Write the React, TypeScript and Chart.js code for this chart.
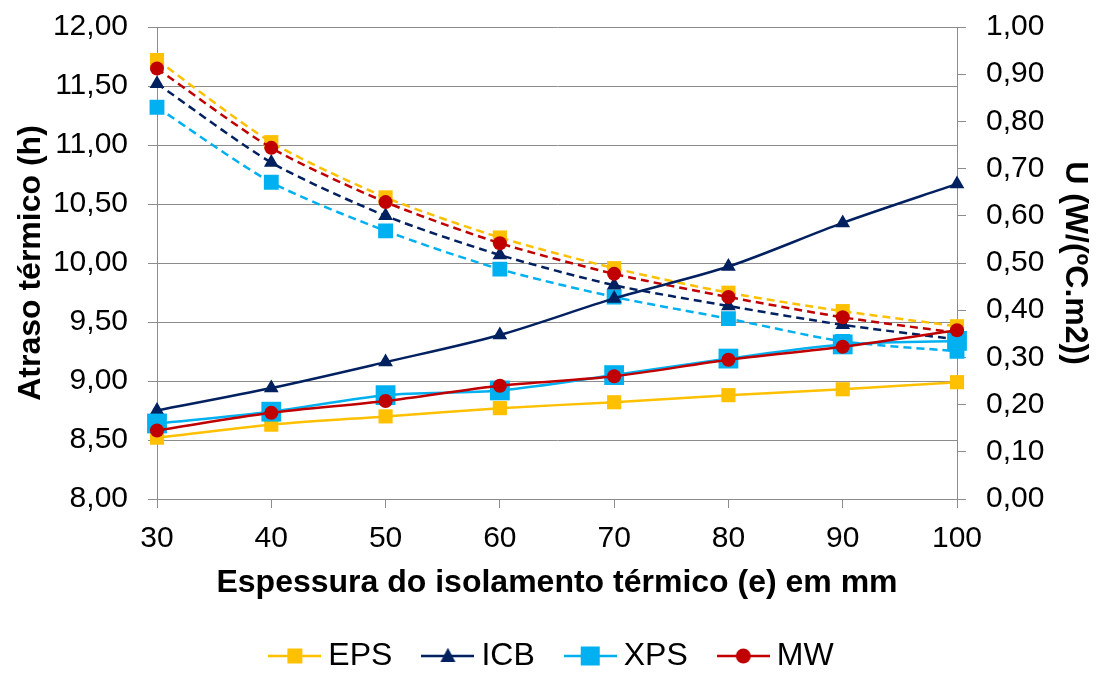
import React, { useEffect, useRef } from "react";
import { Chart, registerables } from "chart.js";

Chart.register(...registerables);

const categories = ["30", "40", "50", "60", "70", "80", "90", "100"];

// Atraso térmico (h) - left axis
const atrasoEPS = [8.52, 8.63, 8.70, 8.77, 8.82, 8.88, 8.93, 8.99];
const atrasoICB = [8.75, 8.94, 9.16, 9.39, 9.70, 9.97, 10.34, 10.67];
const atrasoXPS = [8.64, 8.74, 8.88, 8.92, 9.05, 9.19, 9.31, 9.34];
const atrasoMW = [8.58, 8.73, 8.83, 8.96, 9.04, 9.18, 9.29, 9.43];

// U (W/(ºC.m2)) - right axis
const uEPS = [0.930, 0.756, 0.639, 0.554, 0.489, 0.437, 0.398, 0.366];
const uICB = [0.880, 0.713, 0.600, 0.517, 0.453, 0.409, 0.369, 0.338];
const uXPS = [0.830, 0.671, 0.568, 0.487, 0.428, 0.382, 0.334, 0.313];
const uMW = [0.912, 0.744, 0.629, 0.542, 0.477, 0.428, 0.385, 0.352];

const seriesNames = ["EPS", "ICB", "XPS", "MW"];
const colors = ["#FFC000", "#002060", "#00B0F0", "#C00000"];

const FONT = '"Liberation Sans", Arial, sans-serif';
const GRID = "#8c8c8c";

function makeIcon(color: string, kind: string, size: number) {
  const c = document.createElement("canvas");
  c.width = 53;
  c.height = 24;
  const ctx = c.getContext("2d")!;
  ctx.strokeStyle = color;
  ctx.lineWidth = 2.5;
  ctx.beginPath();
  ctx.moveTo(0, 12);
  ctx.lineTo(53, 12);
  ctx.stroke();
  ctx.fillStyle = color;
  const cx = 26.5, cy = 12;
  ctx.beginPath();
  if (kind === "rect") {
    ctx.rect(cx - size / 2, cy - size / 2, size, size);
  } else if (kind === "triangle") {
    ctx.moveTo(cx, cy - size * 0.55);
    ctx.lineTo(cx + size / 2, cy + size * 0.4);
    ctx.lineTo(cx - size / 2, cy + size * 0.4);
    ctx.closePath();
  } else {
    ctx.arc(cx, cy, size / 2, 0, Math.PI * 2);
  }
  ctx.fill();
  return c;
}

const fmt2 = (v: number | string) => Number(v).toFixed(2).replace(".", ",");

const legendShift = {
  id: "legendShift",
  afterLayout(chart: any) {
    if (chart.legend) {
      chart.legend.left += 6;
      chart.legend.right += 6;
    }
  },
};

export default function App() {
  const ref = useRef<HTMLCanvasElement | null>(null);

  useEffect(() => {
    if (!ref.current) return;
    Chart.defaults.font.family = FONT;
    Chart.defaults.color = "#000";

    const icons = [
      makeIcon(colors[0], "rect", 15),
      makeIcon(colors[1], "triangle", 15),
      makeIcon(colors[2], "rect", 19),
      makeIcon(colors[3], "circle", 15),
    ];

    const solid = [atrasoEPS, atrasoICB, atrasoXPS, atrasoMW];
    const dashed = [uEPS, uICB, uXPS, uMW];
    const styles = ["rect", "triangle", "rect", "circle"];
    const solidRadius = [10, 8.5, 14, 7];
    const dashRadius = [10, 8.5, 10.5, 7];
    const solidOrder = [3, 2, 1, 0];
    const dashOrder = [7, 5, 6, 4];

    const datasets: any[] = [];
    solid.forEach((d, i) => {
      datasets.push({
        label: seriesNames[i],
        data: d,
        yAxisID: "y",
        borderColor: colors[i],
        backgroundColor: colors[i],
        borderWidth: 2.5,
        pointStyle: styles[i],
        pointRadius: solidRadius[i],
        pointBorderWidth: 0,
        tension: 0.3,
        order: solidOrder[i],
      });
    });
    dashed.forEach((d, i) => {
      datasets.push({
        label: seriesNames[i] + " U",
        data: d,
        yAxisID: "y2",
        borderColor: colors[i],
        backgroundColor: colors[i],
        borderWidth: 2.5,
        borderDash: [8, 5],
        pointStyle: styles[i],
        pointRadius: dashRadius[i],
        pointBorderWidth: 0,
        tension: 0.25,
        order: dashOrder[i],
      });
    });

    const fixVertical = (w: number) => (s: any) => {
      s.width = w;
      s.paddingTop = 0;
      s.paddingBottom = 0;
    };

    const chart = new Chart(ref.current, {
      type: "line",
      data: { labels: categories, datasets },
      plugins: [legendShift],
      options: {
        responsive: false,
        animation: false,
        layout: { padding: { top: 27, bottom: -7, left: 0, right: 0 } },
        plugins: {
          tooltip: { enabled: false },
          legend: {
            position: "bottom",
            labels: {
              usePointStyle: true,
              pointStyleWidth: 35,
              padding: 38,
              color: "#000",
              font: { size: 32, family: FONT },
              filter: (item: any) => item.datasetIndex < 4,
              sort: (a: any, b: any) => a.datasetIndex - b.datasetIndex,
              generateLabels: (ch: any) => {
                const items = Chart.defaults.plugins.legend.labels.generateLabels(ch);
                return items.map((it: any) => {
                  if (it.datasetIndex < 4) {
                    it.pointStyle = icons[it.datasetIndex];
                  }
                  it.fontColor = "#000";
                  return it;
                });
              },
            },
          },
        },
        scales: {
          x: {
            afterFit: (s: any) => {
              s.height = 103;
            },
            grid: { drawOnChartArea: false, drawTicks: true, tickLength: 9, color: GRID },
            border: { color: GRID, width: 1 },
            ticks: { font: { size: 30 }, color: "#000", padding: 13, maxRotation: 0 },
            title: {
              display: true,
              text: "Espessura do isolamento térmico (e) em mm",
              font: { size: 32, weight: "bold" },
              color: "#000",
              padding: { top: 0, bottom: 0 },
            },
          },
          y: {
            position: "left",
            min: 8,
            max: 12,
            afterFit: fixVertical(157),
            grid: { color: GRID, tickLength: 9, lineWidth: 1 },
            border: { color: GRID, width: 1 },
            ticks: { stepSize: 0.5, font: { size: 30 }, color: "#000", padding: 20, callback: (v: any) => fmt2(v) },
            title: {
              display: true,
              text: "Atraso térmico (h)",
              font: { size: 32, weight: "bold" },
              color: "#000",
              padding: { top: 12, bottom: 0 },
            },
          },
          y2: {
            position: "right",
            min: 0,
            max: 1,
            afterFit: fixVertical(142),
            grid: { drawOnChartArea: false, color: GRID, tickLength: 9 },
            border: { color: GRID, width: 1 },
            ticks: { stepSize: 0.1, font: { size: 30 }, color: "#000", padding: 20, callback: (v: any) => fmt2(v) },
            title: {
              display: true,
              text: "U (W/(ºC.m2))",
              font: { size: 32, weight: "bold" },
              color: "#000",
              padding: { top: 5, bottom: 0 },
            },
          },
        },
      } as any,
    });
    return () => chart.destroy();
  }, []);

  return (
    <div style={{ position: "fixed", left: 0, top: 0, width: 1099, height: 675, background: "#fff" }}>
      <canvas ref={ref} width={1099} height={675} style={{ display: "block" }} />
    </div>
  );
}
